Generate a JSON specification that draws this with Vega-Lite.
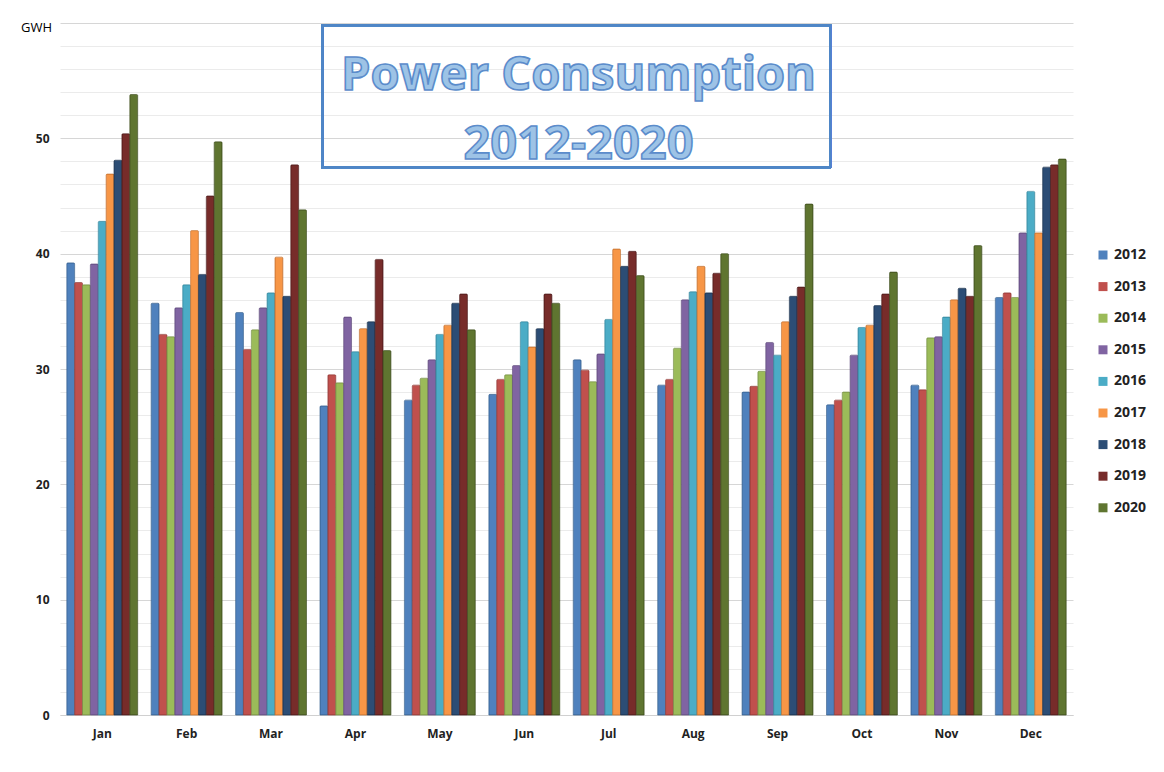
{
  "$schema": "https://vega.github.io/schema/vega-lite/v6.json",
  "autosize": {"type": "none"},
  "padding": {"left": 60, "top": 23, "right": 91, "bottom": 57},
  "width": 1013,
  "height": 692,
  "background": "white",
  "title": {
    "text": ["Power Consumption", "2012-2020"],
    "orient": "top",
    "anchor": "middle",
    "offset": -185,
    "dx": 12,
    "baseline": "alphabetic",
    "lineHeight": 69,
    "font": "Open Sans",
    "fontSize": 47,
    "fontWeight": "bold",
    "color": "#9dc3e6",
    "style": "bigtitle"
  },
  "data": {
    "values": [
      {"month": "Jan", "year": "2012", "gwh": 39.2}, {"month": "Jan", "year": "2013", "gwh": 37.5}, {"month": "Jan", "year": "2014", "gwh": 37.3}, {"month": "Jan", "year": "2015", "gwh": 39.1}, {"month": "Jan", "year": "2016", "gwh": 42.8}, {"month": "Jan", "year": "2017", "gwh": 46.9}, {"month": "Jan", "year": "2018", "gwh": 48.1}, {"month": "Jan", "year": "2019", "gwh": 50.4}, {"month": "Jan", "year": "2020", "gwh": 53.8},
      {"month": "Feb", "year": "2012", "gwh": 35.7}, {"month": "Feb", "year": "2013", "gwh": 33.0}, {"month": "Feb", "year": "2014", "gwh": 32.8}, {"month": "Feb", "year": "2015", "gwh": 35.3}, {"month": "Feb", "year": "2016", "gwh": 37.3}, {"month": "Feb", "year": "2017", "gwh": 42.0}, {"month": "Feb", "year": "2018", "gwh": 38.2}, {"month": "Feb", "year": "2019", "gwh": 45.0}, {"month": "Feb", "year": "2020", "gwh": 49.7},
      {"month": "Mar", "year": "2012", "gwh": 34.9}, {"month": "Mar", "year": "2013", "gwh": 31.7}, {"month": "Mar", "year": "2014", "gwh": 33.4}, {"month": "Mar", "year": "2015", "gwh": 35.3}, {"month": "Mar", "year": "2016", "gwh": 36.6}, {"month": "Mar", "year": "2017", "gwh": 39.7}, {"month": "Mar", "year": "2018", "gwh": 36.3}, {"month": "Mar", "year": "2019", "gwh": 47.7}, {"month": "Mar", "year": "2020", "gwh": 43.8},
      {"month": "Apr", "year": "2012", "gwh": 26.8}, {"month": "Apr", "year": "2013", "gwh": 29.5}, {"month": "Apr", "year": "2014", "gwh": 28.8}, {"month": "Apr", "year": "2015", "gwh": 34.5}, {"month": "Apr", "year": "2016", "gwh": 31.5}, {"month": "Apr", "year": "2017", "gwh": 33.5}, {"month": "Apr", "year": "2018", "gwh": 34.1}, {"month": "Apr", "year": "2019", "gwh": 39.5}, {"month": "Apr", "year": "2020", "gwh": 31.6},
      {"month": "May", "year": "2012", "gwh": 27.3}, {"month": "May", "year": "2013", "gwh": 28.6}, {"month": "May", "year": "2014", "gwh": 29.2}, {"month": "May", "year": "2015", "gwh": 30.8}, {"month": "May", "year": "2016", "gwh": 33.0}, {"month": "May", "year": "2017", "gwh": 33.8}, {"month": "May", "year": "2018", "gwh": 35.7}, {"month": "May", "year": "2019", "gwh": 36.5}, {"month": "May", "year": "2020", "gwh": 33.4},
      {"month": "Jun", "year": "2012", "gwh": 27.8}, {"month": "Jun", "year": "2013", "gwh": 29.1}, {"month": "Jun", "year": "2014", "gwh": 29.5}, {"month": "Jun", "year": "2015", "gwh": 30.3}, {"month": "Jun", "year": "2016", "gwh": 34.1}, {"month": "Jun", "year": "2017", "gwh": 31.9}, {"month": "Jun", "year": "2018", "gwh": 33.5}, {"month": "Jun", "year": "2019", "gwh": 36.5}, {"month": "Jun", "year": "2020", "gwh": 35.7},
      {"month": "Jul", "year": "2012", "gwh": 30.8}, {"month": "Jul", "year": "2013", "gwh": 29.9}, {"month": "Jul", "year": "2014", "gwh": 28.9}, {"month": "Jul", "year": "2015", "gwh": 31.3}, {"month": "Jul", "year": "2016", "gwh": 34.3}, {"month": "Jul", "year": "2017", "gwh": 40.4}, {"month": "Jul", "year": "2018", "gwh": 38.9}, {"month": "Jul", "year": "2019", "gwh": 40.2}, {"month": "Jul", "year": "2020", "gwh": 38.1},
      {"month": "Aug", "year": "2012", "gwh": 28.6}, {"month": "Aug", "year": "2013", "gwh": 29.1}, {"month": "Aug", "year": "2014", "gwh": 31.8}, {"month": "Aug", "year": "2015", "gwh": 36.0}, {"month": "Aug", "year": "2016", "gwh": 36.7}, {"month": "Aug", "year": "2017", "gwh": 38.9}, {"month": "Aug", "year": "2018", "gwh": 36.6}, {"month": "Aug", "year": "2019", "gwh": 38.3}, {"month": "Aug", "year": "2020", "gwh": 40.0},
      {"month": "Sep", "year": "2012", "gwh": 28.0}, {"month": "Sep", "year": "2013", "gwh": 28.5}, {"month": "Sep", "year": "2014", "gwh": 29.8}, {"month": "Sep", "year": "2015", "gwh": 32.3}, {"month": "Sep", "year": "2016", "gwh": 31.2}, {"month": "Sep", "year": "2017", "gwh": 34.1}, {"month": "Sep", "year": "2018", "gwh": 36.3}, {"month": "Sep", "year": "2019", "gwh": 37.1}, {"month": "Sep", "year": "2020", "gwh": 44.3},
      {"month": "Oct", "year": "2012", "gwh": 26.9}, {"month": "Oct", "year": "2013", "gwh": 27.3}, {"month": "Oct", "year": "2014", "gwh": 28.0}, {"month": "Oct", "year": "2015", "gwh": 31.2}, {"month": "Oct", "year": "2016", "gwh": 33.6}, {"month": "Oct", "year": "2017", "gwh": 33.8}, {"month": "Oct", "year": "2018", "gwh": 35.5}, {"month": "Oct", "year": "2019", "gwh": 36.5}, {"month": "Oct", "year": "2020", "gwh": 38.4},
      {"month": "Nov", "year": "2012", "gwh": 28.6}, {"month": "Nov", "year": "2013", "gwh": 28.2}, {"month": "Nov", "year": "2014", "gwh": 32.7}, {"month": "Nov", "year": "2015", "gwh": 32.8}, {"month": "Nov", "year": "2016", "gwh": 34.5}, {"month": "Nov", "year": "2017", "gwh": 36.0}, {"month": "Nov", "year": "2018", "gwh": 37.0}, {"month": "Nov", "year": "2019", "gwh": 36.3}, {"month": "Nov", "year": "2020", "gwh": 40.7},
      {"month": "Dec", "year": "2012", "gwh": 36.2}, {"month": "Dec", "year": "2013", "gwh": 36.6}, {"month": "Dec", "year": "2014", "gwh": 36.2}, {"month": "Dec", "year": "2015", "gwh": 41.8}, {"month": "Dec", "year": "2016", "gwh": 45.4}, {"month": "Dec", "year": "2017", "gwh": 41.8}, {"month": "Dec", "year": "2018", "gwh": 47.5}, {"month": "Dec", "year": "2019", "gwh": 47.7}, {"month": "Dec", "year": "2020", "gwh": 48.2}
    ]
  },
  "encoding": {
    "x": {
      "field": "month",
      "type": "nominal",
      "sort": ["Jan", "Feb", "Mar", "Apr", "May", "Jun", "Jul", "Aug", "Sep", "Oct", "Nov", "Dec"],
      "scale": {"paddingInner": 0.16, "paddingOuter": 0.08},
      "axis": {
        "title": null,
        "labelAngle": 0,
        "ticks": false,
        "domain": true,
        "domainColor": "#d0d0d0",
        "labelPadding": 13,
        "labelFont": "Open Sans",
        "labelFontSize": 12,
        "labelFontWeight": "bold",
        "labelColor": "#222222"
      }
    },
    "y": {
      "field": "gwh",
      "type": "quantitative",
      "scale": {"domain": [0, 60], "nice": false},
      "axis": {
        "title": "GWH",
        "titleAngle": 0,
        "titleX": -24,
        "titleY": 4,
        "titleAlign": "center",
        "titleBaseline": "middle",
        "titleFont": "Open Sans",
        "titleFontSize": 13,
        "titleFontWeight": "normal",
        "titleColor": "#000000",
        "values": [0, 2, 4, 6, 8, 10, 12, 14, 16, 18, 20, 22, 24, 26, 28, 30, 32, 34, 36, 38, 40, 42, 44, 46, 48, 50, 52, 54, 56, 58, 60],
        "labelExpr": "datum.value % 10 === 0 && datum.value < 60 ? datum.label : ''",
        "ticks": false,
        "domain": false,
        "labelPadding": 11,
        "labelFont": "Open Sans",
        "labelFontSize": 12,
        "labelFontWeight": "bold",
        "labelColor": "#222222",
        "grid": true,
        "gridColor": {"condition": {"test": "datum.value % 10 === 0", "value": "#d6d6d6"}, "value": "#ebebeb"},
        "gridWidth": 1
      }
    }
  },
  "layer": [
    {
      "mark": {"type": "bar", "strokeWidth": 0.7, "cornerRadiusTopLeft": 1, "cornerRadiusTopRight": 1},
      "encoding": {
        "xOffset": {"field": "year", "type": "nominal", "scale": {"paddingInner": 0, "paddingOuter": 0}},
        "color": {
          "field": "year",
          "type": "nominal",
          "scale": {
            "domain": ["2012", "2013", "2014", "2015", "2016", "2017", "2018", "2019", "2020"],
            "range": ["#4f81bd", "#c0504d", "#9bbb59", "#8064a2", "#4bacc6", "#f79646", "#2c4d75", "#772c2a", "#5f7530"]
          },
          "legend": {
            "title": null,
            "orient": "none",
            "legendX": 1036,
            "legendY": 225,
            "symbolType": "square",
            "symbolSize": 81,
            "symbolStrokeWidth": 0,
            "labelFont": "Open Sans",
            "labelFontSize": 14,
            "labelFontWeight": "bold",
            "labelColor": "#222222",
            "labelOffset": 4,
            "rowPadding": 17.6
          }
        },
        "stroke": {
          "field": "year",
          "type": "nominal",
          "scale": {
            "domain": ["2012", "2013", "2014", "2015", "2016", "2017", "2018", "2019", "2020"],
            "range": ["#3a6494", "#973c3a", "#7a9446", "#634d80", "#3689a0", "#c87633", "#1d3552", "#511d1c", "#42521f"]
          },
          "legend": null
        }
      }
    },
    {
      "mark": {"type": "rect", "fill": null, "fillOpacity": 0, "stroke": "#4f86c6", "strokeWidth": 2},
      "encoding": {
        "x": {"datum": "Apr", "bandPosition": 0.03},
        "x2": {"datum": "Oct", "bandPosition": 0.05},
        "y": {"datum": 59.8},
        "y2": {"datum": 47.5}
      }
    }
  ],
  "config": {
    "view": {"stroke": null},
    "style": {
      "bigtitle": {"stroke": "#5b8ccb", "strokeWidth": 1.6}
    }
  }
}
